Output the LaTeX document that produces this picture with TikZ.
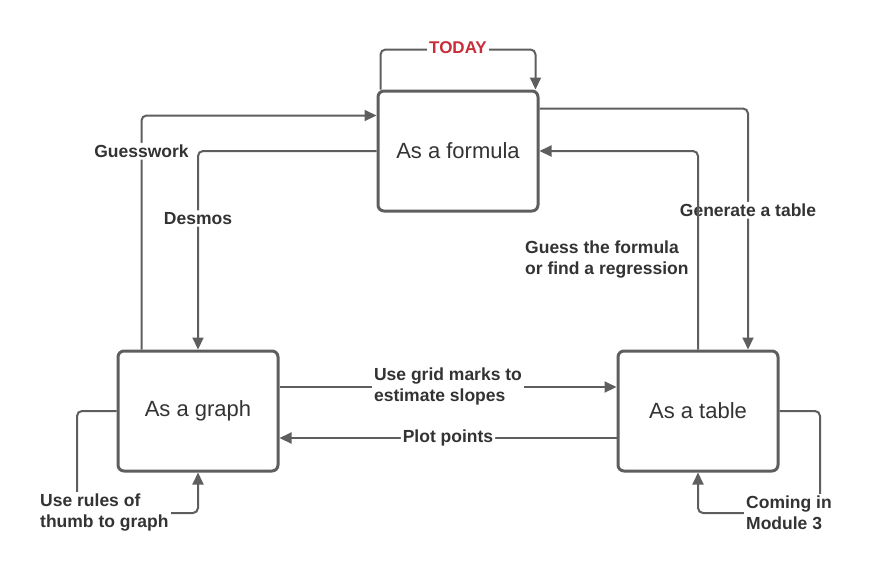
\documentclass[tikz,border=0pt]{standalone}
\usepackage{fontspec}
\setmainfont{Liberation Sans}
\usetikzlibrary{arrows.meta,calc}
\definecolor{ln}{HTML}{5E5E5E}
\definecolor{txt}{HTML}{333333}
\definecolor{red1}{HTML}{C92D39}
\tikzset{
  box/.style={draw=ln, line width=3pt, rounded corners=6pt, minimum width=160pt, minimum height=120pt, text=txt, font=\fontsize{22}{26}\selectfont, inner sep=0pt},
  conn/.style={draw=ln, line width=2pt, rounded corners=5pt},
  arr/.style={-{Triangle[length=12pt,width=11pt]}},
  lbl/.style={fill=white, text=txt, font=\bfseries\fontsize{17.5}{21}\selectfont, inner sep=2pt},
}
\begin{document}
\begin{tikzpicture}[x=1pt,y=-1pt]
\useasboundingbox (0,0) rectangle (872,574);
\node[box] (formula) at (458,151) {As a formula};
\node[box] (graph) at (198,411) {As a graph};
\node[box] (table) at (698,411) {As a table};

% TODAY loop
\draw[conn,arr] ([xshift=4pt]formula.north west) -- ++(0,-40) -| node[pos=0.25, lbl, text=red1, font=\bfseries\fontsize{17}{20}\selectfont, yshift=2pt] (today) {TODAY} ([xshift=-4pt]formula.north east);

% Guesswork
\draw[conn,arr] ([xshift=25pt]graph.north west) |- node[pos=0.43, lbl, yshift=-3pt] (guess) {Guesswork} ([yshift=-26pt]formula.north west);

% Desmos
\draw[conn,arr] (formula.west) -| node[pos=0.665, lbl, yshift=-2pt] (desmos) {Desmos} (graph.north);

% Generate a table
\draw[conn,arr] ([yshift=-19pt]formula.north east) -| node[pos=0.707, lbl, yshift=-2pt] (gen) {Generate a table} ([xshift=50pt]table.north);

% Guess the formula
\draw[conn,arr] (table.north) |- (formula.east);
\node[lbl, anchor=west, align=left] (gf) at (523,260) {Guess the formula\\or find a regression};

% Grid marks
\draw[conn,arr] ([yshift=24pt]graph.east) -- node[lbl, align=left, yshift=1pt] (grid) {Use grid marks to\\estimate slopes} ([yshift=24pt]table.west);

% Plot points
\draw[conn,arr] ([yshift=-27pt]table.west) -- node[lbl] (plot) {Plot points} ([yshift=-27pt]graph.east);

% Rules of thumb
\coordinate (r1) at (77,513);
\draw[conn,arr] (graph.west) -| (r1) -| (graph.south);
\node[lbl, anchor=west, align=left] (rules) at (38,513) {Use rules of\\thumb to graph};

% Coming in Module 3
\coordinate (m1) at (820,513);
\draw[conn,arr] (table.east) -| (m1) -| (table.south);
\node[lbl, anchor=west, align=left] (mod) at (744,513) {Coming in\\Module 3};
\end{tikzpicture}
\end{document}
